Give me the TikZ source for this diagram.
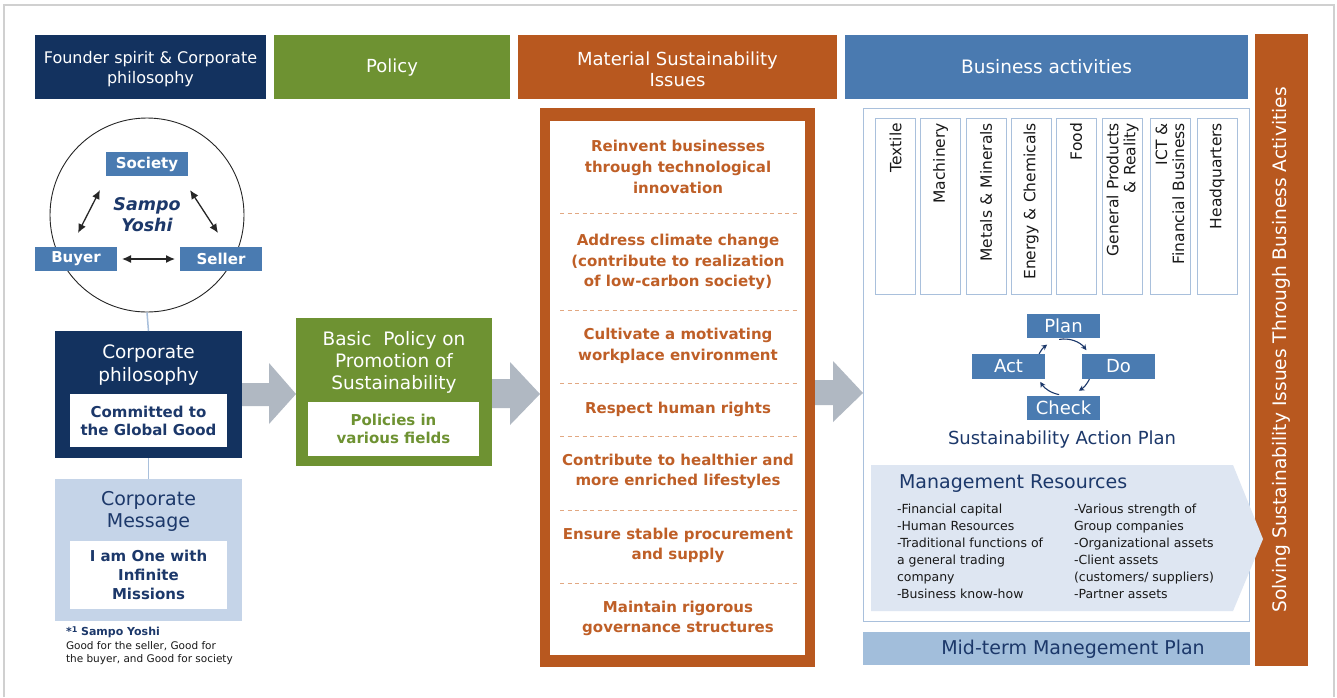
\documentclass[tikz,border=0pt]{standalone}
\usepackage{fontspec}
\setmainfont{DejaVu Sans}
\usetikzlibrary{arrows.meta,calc}
\definecolor{navy}{HTML}{13325F}
\definecolor{navytext}{HTML}{1C386A}
\definecolor{grn}{HTML}{6E9232}
\definecolor{org}{HTML}{B8581F}
\definecolor{orgtext}{HTML}{BF5F27}
\definecolor{orgdash}{HTML}{E2A882}
\definecolor{bluehdr}{HTML}{4A7AB0}
\definecolor{bluebox}{HTML}{4A7BB1}
\definecolor{lightmsg}{HTML}{C5D4E8}
\definecolor{midterm}{HTML}{A2BEDB}
\definecolor{mgmt}{HTML}{DEE6F2}
\definecolor{grayarrow}{HTML}{B0B8C2}
\definecolor{framegray}{HTML}{D0D0D0}
\definecolor{linkblue}{HTML}{A9C0DC}
\definecolor{sectline}{HTML}{A9C0DC}
\newcommand\myfs[2]{\fontsize{#1}{#2}\selectfont}
\begin{document}
\begin{tikzpicture}[x=1pt,y=-1pt,
  box/.style={inner sep=0pt,outer sep=0pt,align=center},
  hdr/.style={box,text=white,minimum height=64},
  hdrtext/.style={box,text=white},
  bluelbl/.style={box,fill=bluebox,text=white,font=\bfseries\myfs{15}{18},minimum width=82,minimum height=24},
  pdca/.style={box,fill=bluebox,text=white,font=\myfs{18}{20},minimum width=73,minimum height=24},
  whitebox/.style={box,fill=white},
  item/.style={box,text=orgtext,font=\bfseries\myfs{15}{20.8}},
  sep/.style={orgdash,line width=1,dash pattern=on 4pt off 3.5pt},
  sector/.style={box,draw=sectline,line width=0.9,rotate=90,minimum height=40,inner xsep=5pt,text width=166,align=right,font=\myfs{15.5}{17},text=black!90},
  biarrow/.style={{Latex[length=9pt,width=8pt]}-{Latex[length=9pt,width=8pt]},line width=1.3,black!85},
  cyc/.style={-{Stealth[length=5.5pt,width=5.5pt]},line width=1.1,navytext},
  link/.style={linkblue,line width=1.5},
  grayarr/.style={fill=grayarrow}
]
\useasboundingbox (0,0) rectangle (1337,697);
\fill[white] (0,0) rectangle (1337,697);
\draw[framegray,line width=1.5] (4,697) -- (4,5) -- (1334,5) -- (1334,697);

% headers
\node[hdr,fill=navy,minimum width=231] (h1) at (150.5,67) {};
\node[hdrtext,font=\myfs{16}{20}] (h1t) at (150.5,69) {Founder spirit \& Corporate\\philosophy};
\node[hdr,fill=grn,minimum width=236] (h2) at (392,67) {};
\node[hdrtext,font=\myfs{18}{21}] (h2t) at (392,68) {Policy};
\node[hdr,fill=org,minimum width=319] (h3) at (677.5,67) {};
\node[hdrtext,font=\myfs{18}{21.5}] (h3t) at (677.5,69.5) {Material Sustainability\\Issues};
\node[hdr,fill=bluehdr,minimum width=403] (h4) at (1046.5,67) {};
\node[hdrtext,font=\myfs{18.5}{21}] (h4t) at (1046.5,67) {Business activities};

% left column
\node[circle,draw=black!85,line width=0.9,minimum size=194,inner sep=0pt] (circ) at (147,215) {};
\node[bluelbl] (soc) at (147,164) {Society};
\node[bluelbl] (buy) at (76,259) {Buyer};
\node[bluelbl] (sel) at (221,259) {Seller};
\node[box,text=navytext,font=\bfseries\itshape\myfs{17.5}{21}] (sy) at (147,215) {Sampo\\Yoshi};
\draw[biarrow] ($(soc.south west)+(-6,14)$) -- ($(buy.north)+(2,-14)$);
\draw[biarrow] ($(soc.south east)+(2,14)$) -- ($(sel.north)+(-3,-14)$);
\draw[biarrow] ($(buy.east)+(5,0)$) -- ($(sel.west)+(-5,0)$);

\node[box,fill=navy,minimum width=187,minimum height=127] (cp) at (148.5,394.5) {};
\draw[link] (circ.south) -- (cp.north);
\node[box,text=white,font=\myfs{18.5}{23}] (cpt) at (148.5,365) {Corporate\\philosophy};
\node[whitebox,minimum width=157,minimum height=53,text=navytext,font=\bfseries\myfs{15}{18}] (cpw) at (148.5,420.5) {Committed to\\the Global Good};

\node[box,fill=lightmsg,minimum width=187,minimum height=142] (cm) at (148.5,550) {};
\draw[link] (cp.south) -- (cm.north);
\node[box,text=navytext,font=\myfs{19}{22}] (cmt) at (148.5,511) {Corporate\\Message};
\node[whitebox,minimum width=157,minimum height=68,text=navytext,font=\bfseries\myfs{15}{19}] (cmw) at (148.5,575) {I am One with\\Infinite\\Missions};

\node[box,anchor=north west,align=left,font=\myfs{10.5}{13.8},text=black!90] (fn) at (66,627)
  {{\color{navytext}\bfseries\myfs{11}{13.8}*\raisebox{2.5pt}{\myfs{8}{8}1} Sampo Yoshi}\\Good for the seller, Good for\\the buyer, and Good for society};

% policy column
\node[box,fill=grn,minimum width=196,minimum height=148] (bp) at (394,392) {};
\node[box,text=white,font=\myfs{18.5}{22}] (bpt) at (394,362) {Basic\ \ Policy on\\Promotion of\\Sustainability};
\node[whitebox,minimum width=171,minimum height=54,text=grn,font=\bfseries\myfs{15}{18.5}] (bpw) at (393.5,429) {Policies in\\various fields};

% gray arrows
\fill[grayarr] (cp.east |- 0,383) -- (269,383) -- (269,363) -- (bp.west |- 0,394) -- (269,424) -- (269,406) -- (cp.east |- 0,406) -- cycle;

% material issues
\node[box,fill=org,minimum width=275,minimum height=559] (mb) at (677.5,387.5) {};
\node[whitebox,minimum width=255,minimum height=534] (mbw) at (677.5,388) {};
\fill[grayarr] (bp.east |- 0,379) -- (510,379) -- (510,362) -- (mb.west |- 0,394) -- (510,425) -- (510,408) -- (bp.east |- 0,408) -- cycle;

\node[item] (i1) at (678,167) {Reinvent businesses\\through technological\\innovation};
\draw[sep] (560,213) -- (798,213);
\node[item] (i2) at (678,262) {Address climate change\\(contribute to realization\\of low-carbon society)};
\draw[sep] (560,310) -- (798,310);
\node[item] (i3) at (678,345.5) {Cultivate a motivating\\workplace environment};
\draw[sep] (560,383) -- (798,383);
\node[item] (i4) at (678,409) {Respect human rights};
\draw[sep] (560,436) -- (798,436);
\node[item] (i5) at (678,471.5) {Contribute to healthier and\\more enriched lifestyles};
\draw[sep] (560,510) -- (798,510);
\node[item] (i6) at (678,545.5) {Ensure stable procurement\\and supply};
\draw[sep] (560,583) -- (798,583);
\node[item] (i7) at (678,618.5) {Maintain rigorous\\governance structures};

% business activities
\node[box,draw=linkblue,line width=1,minimum width=386,minimum height=513] (bf) at (1056,364.5) {};
\fill[grayarr] (mb.east |- 0,380) -- (833,380) -- (833,361) -- (bf.west |- 0,393) -- (833,422) -- (833,405) -- (mb.east |- 0,405) -- cycle;

\node[sector] (s1) at (895.5,206) {Textile};
\node[sector] (s2) at (940.5,206) {Machinery};
\node[sector] (s3) at (986,206) {Metals \& Minerals};
\node[sector] (s4) at (1031,206) {Energy \& Chemicals};
\node[sector] (s5) at (1076,206) {Food};
\node[sector] (s6) at (1122.5,206) {General Products\\\& Reality};
\node[sector] (s7) at (1170,206) {ICT \&\\Financial Business};
\node[sector] (s8) at (1217,206) {Headquarters};

% PDCA
\coordinate (pc) at (1064,367);
\draw[cyc] ($(pc)+(-100:28)$) arc[start angle=-100,end angle=-37,radius=28];
\draw[cyc] ($(pc)+(10:28)$) arc[start angle=10,end angle=58,radius=28];
\draw[cyc] ($(pc)+(100:28)$) arc[start angle=100,end angle=148,radius=28];
\draw[cyc] ($(pc)+(190:28)$) arc[start angle=190,end angle=233,radius=28];
\node[pdca] (plan) at (1063.5,326) {Plan};
\node[pdca,minimum height=25] (act) at (1008.5,366.5) {Act};
\node[pdca,minimum height=25] (do) at (1118.5,366.5) {Do};
\node[pdca] (chk) at (1063.5,408) {Check};
\node[box,text=navytext,font=\myfs{18}{21}] (sap) at (1062,440) {Sustainability Action Plan};

% right bar
\node[box,fill=org,rotate=90,minimum width=632,minimum height=53,text=white,font=\myfs{18.6}{21}] (rb) at (1281.5,350) {Solving Sustainability Issues Through Business Activities};

% management resources
\fill[mgmt] (871,465) -- (1233,465) -- (1263,539) -- (1233,611) -- (871,611) -- cycle;
\node[box,anchor=west,text=navytext,font=\myfs{19}{22}] (mr) at (899,484) {Management Resources};
\node[box,anchor=north west,align=left,font=\myfs{12.5}{17},text=black!90] (ml) at (897,503.5)
 {-Financial capital\\-Human Resources\\-Traditional functions of\\a general trading\\company\\-Business know-how};
\node[box,anchor=north west,align=left,font=\myfs{12.5}{17},text=black!90] (mr2) at (1074,503.5)
 {-Various strength of\\Group companies\\-Organizational assets\\-Client assets\\(customers/ suppliers)\\-Partner assets};

% mid-term
\node[box,fill=midterm,minimum width=387,minimum height=33] (mt) at (1056.5,648.5) {};
\node[box,text=navytext,font=\myfs{19}{22}] (mtt) at (1073,649) {Mid-term Manegement Plan};
\end{tikzpicture}
\end{document}
